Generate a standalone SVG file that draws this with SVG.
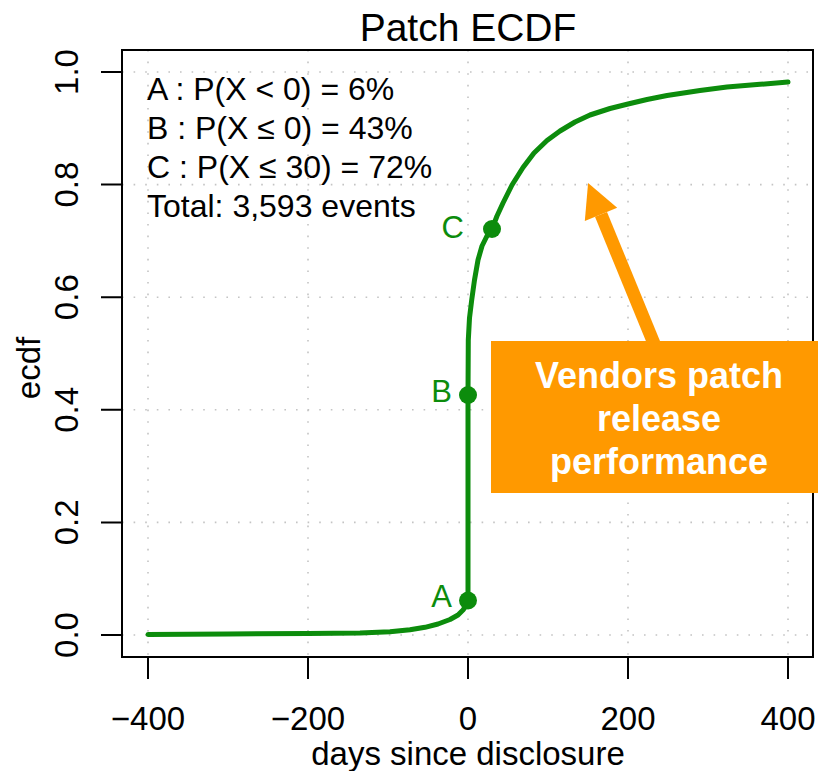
<svg xmlns="http://www.w3.org/2000/svg" width="818" height="771" viewBox="0 0 818 771">
<style>
text{font-family:"Liberation Sans",Arial,sans-serif;fill:#000}
.tk{font-size:33px;text-anchor:middle}
.grid{stroke:#c4c4c4;stroke-width:1.6;stroke-dasharray:1.6 10;fill:none}
.axis{stroke:#000;stroke-width:2;fill:none}
.lg{font-size:32px}
.pl{font-size:31px;fill:#0c8c0c;text-anchor:end}
.dot{fill:#0c8c0c}
.box{fill:#ff9900}
.bt{font-size:36px;font-weight:bold;fill:#fff;text-anchor:middle}
</style>
<defs>
<marker id="ah" markerUnits="userSpaceOnUse" markerWidth="40" markerHeight="40" refX="0" refY="0" orient="auto" overflow="visible">
<path d="M0,-17.5 L34,0 L0,17.5 z" fill="#ff9900"/>
</marker>
</defs>
<rect width="818" height="771" fill="#fff"/>
<text x="468" y="41" font-size="39" text-anchor="middle" fill="#222">Patch ECDF</text>
<g id="grid">
<path class="grid" d="M148,50V657M308,50V657M468,50V657M628,50V657M788,50V657M122,72H813M122,184.6H813M122,297.2H813M122,409.8H813M122,522.4H813M122,635H813"/>
</g>
<g id="axes">
<rect class="axis" x="122" y="50" width="691" height="607"/>
<path class="axis" d="M148,657V679M308,657V679M468,657V679M628,657V679M788,657V679M122,72H101M122,184.6H101M122,297.2H101M122,409.8H101M122,522.4H101M122,635H101"/>
<text class="tk" x="148" y="730">−400</text>
<text class="tk" x="308" y="730">−200</text>
<text class="tk" x="468" y="730">0</text>
<text class="tk" x="628" y="730">200</text>
<text class="tk" x="788" y="730">400</text>
<text class="tk" x="78" y="635" transform="rotate(-90 78 635)">0.0</text>
<text class="tk" x="78" y="522.4" transform="rotate(-90 78 522.4)">0.2</text>
<text class="tk" x="78" y="409.8" transform="rotate(-90 78 409.8)">0.4</text>
<text class="tk" x="78" y="297.2" transform="rotate(-90 78 297.2)">0.6</text>
<text class="tk" x="78" y="184.6" transform="rotate(-90 78 184.6)">0.8</text>
<text class="tk" x="78" y="72" transform="rotate(-90 78 72)">1.0</text>
<text class="tk" x="468" y="765">days since disclosure</text>
<text class="tk" x="40" y="368" transform="rotate(-90 40 368)">ecdf</text>
</g>
<g id="legend">
<text class="lg" x="147" y="100">A : P(X &lt; 0) = 6%</text>
<text class="lg" x="147" y="139">B : P(X ≤ 0) = 43%</text>
<text class="lg" x="147" y="178">C : P(X ≤ 30) = 72%</text>
<text class="lg" x="147" y="217">Total: 3,593 events</text>
</g>
<g id="curve">
<path d="M148,634.5 L228,634 L308,633.5 L360,633 L390,631.8 L410,629.8 L425,627.3 L438,624 L450,619.5 L458,615 L463,610 L466.5,605 L468,600.5 L468,393 L468.3,340 L469.5,318 L471.7,300 L474.5,280 L478,260 L482,246 L486.7,236.5 L492,229 L497,216 L503,203 L512,185 L523,167.5 L534,153 L547,140.5 L560,131 L575,122 L590,115 L610,108.5 L628,104 L647,99.5 L667,95.5 L700,90.5 L727,87 L760,84.3 L788,82" fill="none" stroke="#0c8c0c" stroke-width="5" stroke-linejoin="round" stroke-linecap="round"/>
</g>
<g id="pointA"><circle class="dot" cx="468" cy="600.5" r="9"/><text class="pl" x="452" y="607">A</text></g>
<g id="pointB"><circle class="dot" cx="468" cy="395" r="9"/><text class="pl" x="452" y="402">B</text></g>
<g id="pointC"><circle class="dot" cx="492" cy="229" r="9"/><text class="pl" x="464" y="238">C</text></g>
<g id="connectors">
<line x1="655" y1="346" x2="601" y2="214.4" stroke="#ff9900" stroke-width="13" marker-end="url(#ah)"/>
</g>
<g id="callout">
<rect class="box" x="491" y="341" width="327" height="152"/>
<text class="bt" x="659" y="388">Vendors patch</text>
<text class="bt" x="659" y="431">release</text>
<text class="bt" x="659" y="474">performance</text>
</g>
</svg>
